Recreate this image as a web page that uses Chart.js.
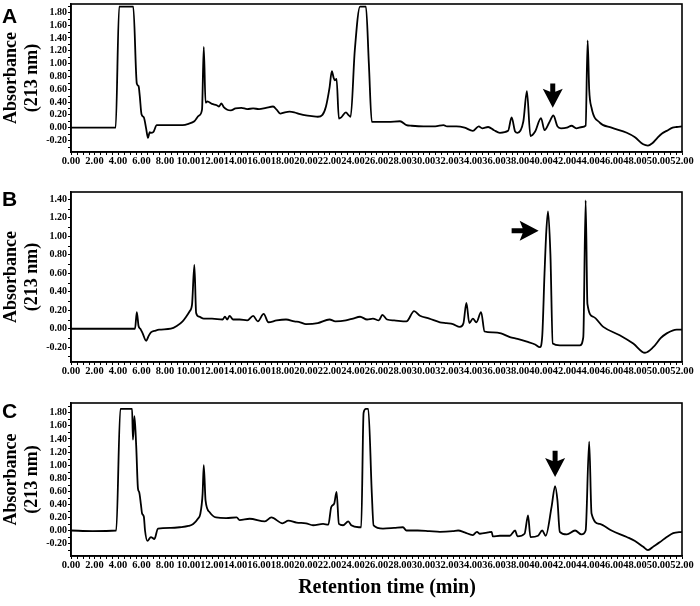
<!DOCTYPE html>
<html><head><meta charset="utf-8">
<script src="https://cdn.jsdelivr.net/npm/chart.js@4.4.1/dist/chart.umd.min.js"></script>
<style>
html,body{margin:0;padding:0;background:#fff;}
#wrap{position:relative;width:700px;height:606px;overflow:hidden;background:#fff;}
canvas{position:absolute;left:0;}
.lab{position:absolute;font:bold 21px 'Liberation Sans',Arial,sans-serif;line-height:21px;color:#000;}
#xt{position:absolute;left:0;width:774px;text-align:center;font:bold 20px 'Liberation Serif','Times New Roman',serif;line-height:20px;top:576px;color:#000;}
</style></head><body>
<div id="wrap">
<canvas id="cA" width="700" height="176" style="top:-6px"></canvas>
<canvas id="cB" width="700" height="210" style="top:170px"></canvas>
<canvas id="cC" width="700" height="226" style="top:380px"></canvas>
<div class="lab" style="left:2px;top:5px">A</div>
<div class="lab" style="left:2px;top:188px">B</div>
<div class="lab" style="left:2px;top:400px">C</div>
<div id="xt">Retention time (min)</div>
</div>
<script>
// ---- Data (retention time in min, absorbance at 213 nm) ----
const timeA = [0,3.8,4.1,5.3,5.6,5.75,5.85,6.0,6.2,6.4,
  6.55,6.7,6.8,7.0,7.3,8.5,9.5,10.0,10.5,10.9,
  11.15,11.3,11.45,11.6,12.0,12.4,12.6,12.8,13.0,13.3,
  13.6,14.0,14.5,15.0,15.5,16.0,16.6,17.2,17.5,17.8,
  18.2,18.6,19.0,19.5,20.0,20.5,21.0,21.4,21.7,22.0,
  22.2,22.35,22.45,22.6,22.8,23.0,23.4,23.6,23.8,24.15,
  24.6,25.1,25.35,25.6,26.0,27.0,28.0,28.55,29.0,30.0,
  31.0,31.7,32.0,32.8,33.5,34.2,34.7,35.0,35.5,36.0,
  36.5,37.2,37.5,37.8,38.0,38.5,38.8,39.1,39.5,40.0,
  40.3,40.7,41.05,41.4,41.7,42.2,42.6,43.0,43.5,43.8,
  43.97,44.1,44.3,45.0,46.0,47.3,48.0,48.7,49.1,49.5,
  49.85,50.3,50.7,51.2,51.55,52];
const absA = [0,0,1.89,1.89,0.69,0.65,0.50,0.21,0.16,-0.02,
  -0.16,-0.07,-0.08,-0.07,0.04,0.04,0.04,0.06,0.10,0.19,
  0.28,1.26,0.39,0.41,0.37,0.35,0.33,0.38,0.32,0.28,
  0.27,0.30,0.31,0.29,0.30,0.29,0.31,0.33,0.28,0.22,
  0.24,0.25,0.24,0.21,0.19,0.18,0.17,0.20,0.33,0.62,
  0.88,0.78,0.74,0.76,0.14,0.16,0.24,0.20,0.17,1.20,
  1.89,1.89,1.0,0.09,0.09,0.09,0.10,0.04,0.03,0.02,
  0.02,0.04,0.02,0.02,0.0,-0.05,0.02,-0.01,0.01,-0.04,
  -0.08,-0.05,0.16,-0.06,-0.08,0.1,0.57,-0.13,-0.06,0.15,
  -0.04,0.08,0.19,0.02,-0.01,0.0,0.03,-0.01,0.01,0.03,
  1.36,0.6,0.31,0.08,0.0,-0.08,-0.15,-0.26,-0.28,-0.24,
  -0.17,-0.09,-0.05,0.0,0.01,0.02];

const timeB = [0,5.45,5.6,5.75,5.9,6.1,6.4,6.6,6.8,7.2,
  7.5,8.5,9.0,9.5,9.8,10.1,10.3,10.5,10.65,10.9,
  11.3,12.0,12.9,13.1,13.3,13.5,13.8,14.35,15.0,15.5,
  15.9,16.4,16.8,17.5,18.3,19.0,19.5,20.0,21.0,22.0,
  22.5,23.4,24.0,24.6,25.2,25.7,26.2,26.5,26.9,27.5,
  28.55,29.2,29.7,30.5,31.4,31.95,32.5,33.1,33.4,33.65,
  33.9,34.2,34.5,34.9,35.2,35.9,36.6,37.35,38.0,38.8,
  39.5,39.9,40.1,40.3,40.45,40.6,40.8,41.0,41.6,42.5,
  43.3,43.6,43.8,43.95,44.45,45.3,46.7,47.85,48.85,49.55,
  50.2,50.7,51.55,52];
const absB = [0,0,0.18,0.03,0,-0.05,-0.13,-0.08,-0.04,-0.02,
  -0.01,0,0.03,0.08,0.13,0.19,0.26,0.69,0.17,0.13,
  0.11,0.11,0.10,0.13,0.10,0.14,0.10,0.10,0.09,0.14,
  0.08,0.16,0.07,0.09,0.10,0.08,0.07,0.05,0.06,0.10,
  0.08,0.09,0.11,0.13,0.10,0.11,0.09,0.15,0.10,0.09,
  0.08,0.19,0.14,0.11,0.07,0.06,0.05,0.02,0.06,0.28,
  0.06,0.11,0.07,0.18,-0.03,-0.04,-0.05,-0.09,-0.11,-0.14,
  -0.17,-0.2,-0.09,0.6,1.05,1.27,0.81,-0.16,-0.18,-0.18,
  -0.18,-0.09,1.39,0.27,0.13,0.02,-0.07,-0.16,-0.26,-0.2,
  -0.1,-0.05,-0.01,-0.01];

const timeC = [0,1.85,3.85,4.2,5.2,5.27,5.4,5.55,5.7,5.8,
  5.95,6.05,6.2,6.3,6.5,6.8,7.1,7.4,8.5,9.25,
  10.0,10.4,10.8,11.0,11.2,11.3,11.45,11.8,12.35,13.2,
  14.1,14.35,15.2,16.5,17.05,18.0,18.5,19.2,20.0,20.6,
  21.45,21.9,22.15,22.4,22.6,22.8,23.15,23.6,23.85,24.5,
  24.7,24.9,25.1,25.3,25.6,25.75,26.55,27.5,28.25,28.55,
  29.5,30.5,31.4,32.5,32.95,33.5,34.2,34.55,34.8,35.5,
  35.8,35.9,36.5,37.35,37.8,38.0,38.6,38.9,39.1,39.75,
  40.1,40.4,40.9,41.2,41.4,41.6,42.2,42.9,43.45,43.8,
  44.1,44.3,45.0,46.0,47.3,48.0,48.7,49.1,49.6,50.1,
  50.7,51.25,52];
const absC = [0.0,-0.01,0.0,1.86,1.86,1.39,1.75,1.29,0.64,0.59,
  0.4,0.26,0.21,0.0,-0.16,-0.1,-0.13,0.03,0.04,0.05,
  0.07,0.1,0.18,0.25,0.56,1.0,0.46,0.28,0.20,0.19,
  0.20,0.16,0.18,0.14,0.2,0.11,0.15,0.12,0.11,0.08,
  0.1,0.09,0.36,0.41,0.59,0.1,0.08,0.14,0.08,0.05,
  0.05,1.80,1.86,1.86,0.57,0.08,0.03,0.04,0.05,0.0,
  0.0,-0.01,-0.02,-0.01,0.0,-0.03,-0.07,-0.02,-0.05,-0.03,
  -0.02,-0.09,-0.08,-0.08,0.0,-0.09,-0.05,0.23,-0.1,-0.08,
  0.0,-0.08,0.36,0.68,0.46,-0.02,-0.06,0.0,-0.06,0.0,
  1.36,0.26,0.1,0.0,-0.1,-0.16,-0.25,-0.3,-0.24,-0.18,
  -0.1,-0.04,-0.02];

// annotation arrows (data coordinates)
const arrowA = {x1:41.0, y1:0.69, x2:41.0, y2:0.31};
const arrowB = {x1:37.5, y1:1.06, x2:39.8, y2:1.06};
const arrowC = {x1:41.2, y1:1.22, x2:41.2, y2:0.82};

const yTitle = ['Absorbance', '(213 nm)'];
const serif = "'Liberation Serif','Times New Roman',serif";

function drawArrow(ctx, x1, y1, x2, y2){
  const ang = Math.atan2(y2-y1, x2-x1);
  const L = Math.hypot(x2-x1, y2-y1);
  const hl = 19, hw = 20, sw = 5;
  ctx.save();
  ctx.translate(x2, y2); ctx.rotate(ang);
  ctx.beginPath();
  ctx.moveTo(0,0);
  ctx.lineTo(-hl,-hw/2);
  ctx.lineTo(-hl+3,-sw/2);
  ctx.lineTo(-L,-sw/2);
  ctx.lineTo(-L,sw/2);
  ctx.lineTo(-hl+3,sw/2);
  ctx.lineTo(-hl,hw/2);
  ctx.closePath();
  ctx.fillStyle='#000'; ctx.fill();
  ctx.restore();
}

const framePlugin = {
  id:'frame',
  afterDraw(chart, args, opts){
    const {ctx, chartArea:a, scales:{x, y}} = chart;
    ctx.save();
    ctx.strokeStyle='#000';
    ctx.lineWidth=1.6;
    ctx.strokeRect(a.left, a.top, a.right-a.left, a.bottom-a.top);
    ctx.lineWidth=1;
    ctx.beginPath();
    for(let i=1;i<=104;i++){
      if(i%4===0) continue;
      const px = Math.round(x.getPixelForValue(i*0.5))+0.5;
      ctx.moveTo(px, a.bottom); ctx.lineTo(px, a.bottom+3);
    }
    const lo = Math.ceil(y.min*10), hi = Math.floor(y.max*10);
    for(let k=lo;k<=hi;k++){
      if(k%2===0) continue;
      const py = Math.round(y.getPixelForValue(k/10))+0.5;
      ctx.moveTo(a.left, py); ctx.lineTo(a.left-3, py);
    }
    ctx.stroke();
    if(opts.arrow){
      const ar = opts.arrow;
      drawArrow(ctx, x.getPixelForValue(ar.x1), y.getPixelForValue(ar.y1),
                     x.getPixelForValue(ar.x2), y.getPixelForValue(ar.y2));
    }
    ctx.restore();
  }
};

function makeChart(id, times, values, yMin, yMax, padTop, xHeight, arrow){
  const pts = times.map((t,i)=>({x:t, y:values[i]}));
  return new Chart(document.getElementById(id), {
    type:'line',
    data:{datasets:[{data:pts, borderColor:'#000', borderWidth:1.8, pointRadius:0,
      fill:false, cubicInterpolationMode:'monotone'}]},
    options:{
      responsive:false, animation:false, events:[],
      layout:{padding:{top:padTop, right:18, left:0, bottom:0}},
      plugins:{legend:{display:false}, tooltip:{enabled:false}, frame:{arrow:arrow}},
      scales:{
        x:{type:'linear', min:0, max:52,
          afterFit(s){ s.height = xHeight; },
          grid:{drawOnChartArea:false, drawTicks:true, tickLength:3, tickColor:'#000'},
          border:{display:true, color:'#000', width:1.6},
          ticks:{stepSize:2, autoSkip:false, maxRotation:0, minRotation:0, padding:0, color:'#000',
            font:{family:serif, size:10.5, weight:'bold'},
            callback:v=>Number(v).toFixed(2)}
        },
        y:{type:'linear', min:yMin, max:yMax,
          afterFit(s){ s.width = 71; },
          grid:{drawOnChartArea:false, drawTicks:true, tickLength:3, tickColor:'#000'},
          border:{display:true, color:'#000', width:1.6},
          title:{display:true, text:yTitle, color:'#000', padding:{top:1,bottom:0},
            font:{family:serif, size:18, weight:'bold', lineHeight:1.15}},
          ticks:{stepSize:0.2, includeBounds:false, autoSkip:false, padding:1, color:'#000',
            font:{family:serif, size:10, weight:'bold'},
            callback:v=>Number(v).toFixed(2)}
        }
      }
    },
    plugins:[framePlugin]
  });
}

makeChart('cA', timeA, absA, -0.38, 1.93, 10, 18, arrowA);
makeChart('cB', timeB, absB, -0.36, 1.48, 22, 18, arrowB);
makeChart('cC', timeC, absC, -0.39, 1.95, 23, 50, arrowC);
</script>
</body></html>
